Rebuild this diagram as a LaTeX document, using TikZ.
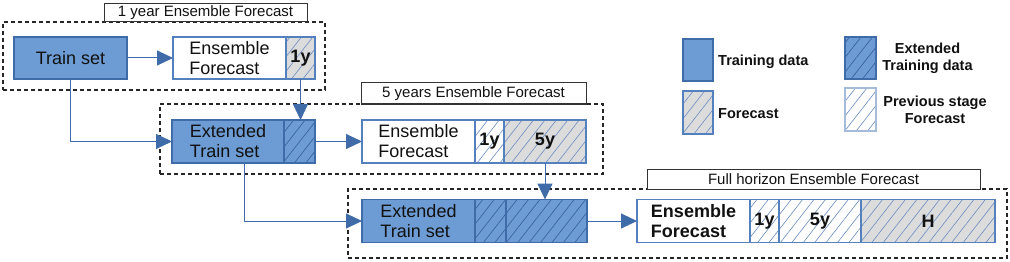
\documentclass[tikz,border=0pt]{standalone}
\usepackage{fontspec}
\setmainfont{Liberation Sans}
\usetikzlibrary{arrows.meta,patterns.meta}
\definecolor{bfill}{HTML}{6D9BD3}
\definecolor{bdraw}{HTML}{3F6CA8}
\definecolor{fdraw}{HTML}{5580BE}
\definecolor{gfill}{HTML}{DCDCDC}
\definecolor{hatchc}{HTML}{6B8CC2}
\definecolor{hatchd}{HTML}{345E9A}
\definecolor{txt}{HTML}{111111}
\tikzset{
  box/.style={rectangle, inner sep=0pt, outer sep=0pt, line width=1.1pt, text=txt,
    font=\fontsize{18}{20}\selectfont, align=left},
  trainbox/.style={box, draw=bdraw, fill=bfill},
  extbox/.style={box, draw=bdraw, preaction={fill=bfill},
    pattern={Lines[angle=52,distance=9pt,line width=0.6pt]}, pattern color=hatchd},
  fcbox/.style={box, draw=fdraw, fill=white},
  newfc/.style={box, draw=fdraw, preaction={fill=gfill},
    pattern={Lines[angle=52,distance=9pt,line width=0.6pt]}, pattern color=hatchc,
    font=\bfseries\fontsize{18}{20}\selectfont},
  oldfc/.style={box, draw=fdraw, preaction={fill=white},
    pattern={Lines[angle=52,distance=9pt,line width=0.6pt]}, pattern color=hatchc,
    font=\bfseries\fontsize{18}{20}\selectfont},
  stage/.style={rectangle, inner sep=0pt, draw=black!85, dash pattern=on 4pt off 3pt, line width=1.2pt},
  titlebox/.style={rectangle, draw=black!80, fill=white, line width=1pt, inner sep=0pt,
    font=\fontsize{15}{17}\selectfont, text=txt},
  conn/.style={draw=bdraw, line width=1pt, -{Triangle[length=16pt,width=15pt]}},
  legtxt/.style={font=\bfseries\fontsize{14.5}{17}\selectfont, text=txt, align=center, inner sep=0pt}
}
\begin{document}
\begin{tikzpicture}[x=1pt,y=-1pt]
\useasboundingbox[fill=white] (0,0) rectangle (1010,262);
% stage frames
\node[stage, minimum width=322pt, minimum height=68pt] (g1) at (164,56) {};
\node[stage, minimum width=443pt, minimum height=70pt] (g2) at (381.5,139) {};
\node[stage, minimum width=659pt, minimum height=69pt] (g3) at (677.5,223.5) {};
% titles
\node[titlebox, minimum width=203pt, minimum height=18pt] (t1) at (205.5,13) {1 year Ensemble Forecast};
\node[titlebox, minimum width=225pt, minimum height=21pt] (t2) at (473.5,93.5) {5 years Ensemble Forecast};
\node[titlebox, minimum width=333pt, minimum height=20pt] (t3) at (813.5,179) {Full horizon Ensemble Forecast};
% row 1
\node[trainbox, minimum width=113pt, minimum height=42pt] (train1) at (70.5,58) {Train set};
\node[fcbox, minimum width=113pt, minimum height=42pt] (ens1) at (229.5,58) {Ensemble\\Forecast};
\node[newfc, minimum width=29pt, minimum height=42pt] (y1) at (300.5,58) {1y};
% row 2
\node[trainbox, minimum width=112pt, minimum height=43pt] (ext2) at (228,141.5) {Extended\\Train set};
\node[extbox, minimum width=31pt, minimum height=43pt] (ext2h) at (299.5,141.5) {};
\node[fcbox, minimum width=113pt, minimum height=43pt] (ens2) at (418.5,141.5) {Ensemble\\Forecast};
\node[oldfc, minimum width=29pt, minimum height=43pt] (y2a) at (489.5,141.5) {1y};
\node[newfc, minimum width=82pt, minimum height=43pt] (y2b) at (545,141.5) {5y};
% row 3
\node[trainbox, minimum width=113pt, minimum height=43pt] (ext3) at (418.5,221) {Extended\\Train set};
\node[extbox, minimum width=31pt, minimum height=43pt] (ext3h1) at (490.5,221) {};
\node[extbox, minimum width=81pt, minimum height=43pt] (ext3h2) at (546.5,221) {};
\node[fcbox, minimum width=113pt, minimum height=43pt, font=\bfseries\fontsize{18}{20}\selectfont] (ens3) at (693.5,221) {Ensemble\\Forecast};
\node[oldfc, minimum width=29pt, minimum height=43pt] (y3a) at (764.5,221) {1y};
\node[oldfc, minimum width=82pt, minimum height=43pt] (y3b) at (820,221) {5y};
\node[newfc, minimum width=134pt, minimum height=43pt] (y3c) at (928,221) {H};
% connectors
\draw[conn] (train1) -- (ens1);
\draw[conn] (train1.south) |- (ext2.west);
\draw[conn] (y1.south) -- (y1.south |- ext2h.north);
\draw[conn] (ext2h.east) -- (ens2.west);
\draw[conn] ([xshift=16pt]ext2.south) |- (ext3.west);
\draw[conn] (y2b.south) -- (y2b.south |- ext3h2.north);
\draw[conn] (ext3h2.east) -- (ens3.west);
% legend
\node[trainbox, minimum width=30pt, minimum height=42pt] (l1) at (698,60) {};
\node[legtxt, anchor=west] (l1t) at (718,62) {Training data};
\node[newfc, minimum width=30pt, minimum height=43pt] (l2) at (698,112.5) {};
\node[legtxt, anchor=west] (l2t) at (718,114) {Forecast};
\node[extbox, minimum width=31pt, minimum height=42pt] (l3) at (860.5,58) {};
\node[legtxt] (l3t) at (927.5,58) {Extended\\Training data};
\node[oldfc, draw=hatchc!60, minimum width=31pt, minimum height=43pt] (l4) at (860.5,109.5) {};
\node[legtxt] (l4t) at (935,109.5) {Previous stage\\Forecast};
\end{tikzpicture}
\end{document}
